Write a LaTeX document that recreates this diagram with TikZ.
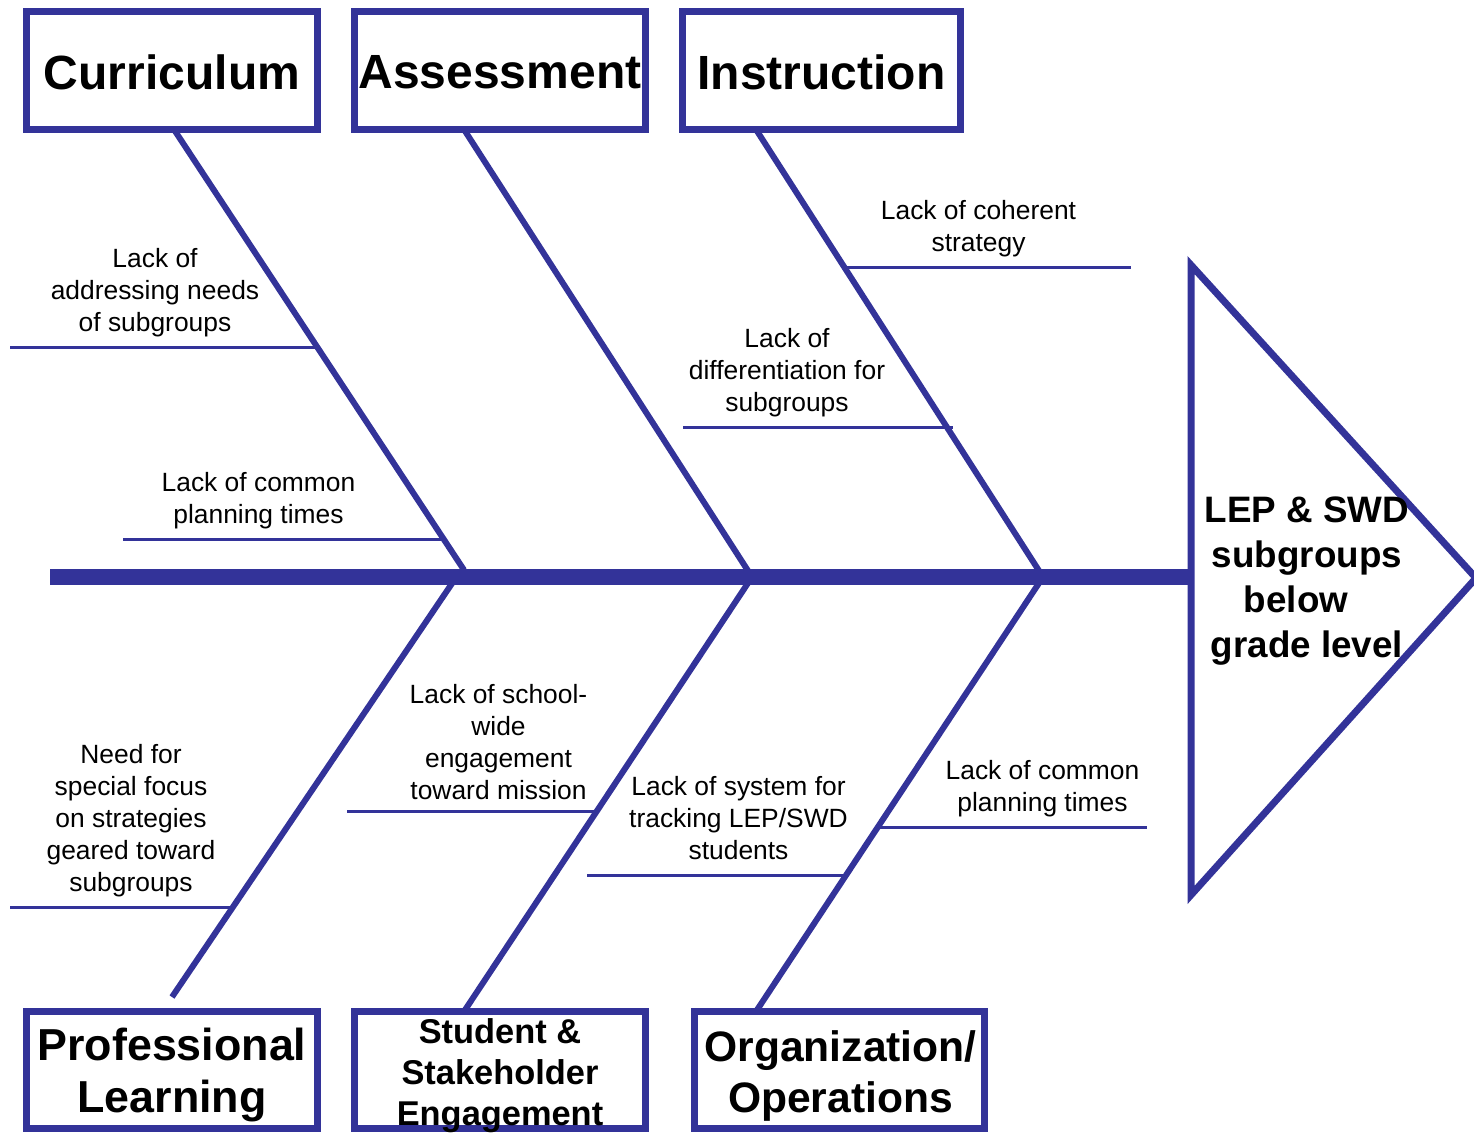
\documentclass[tikz,border=0pt]{standalone}
\usepackage{fontspec}
\setmainfont{Liberation Sans}
\definecolor{fb}{HTML}{333399}
\tikzset{
  catbox/.style={draw=fb, line width=3.5pt, fill=white, inner sep=0pt, minimum width=145.5pt, minimum height=59pt},
  cattext/.style={inner sep=0pt, align=center},
  bone/.style={draw=fb, line width=3pt},
  subline/.style={draw=fb, line width=1.5pt},
  cause/.style={inner sep=0pt, align=center, font=\fontsize{13.2}{16}\selectfont},
}
\begin{document}
\begin{tikzpicture}[x={(0.5pt,0)}, y={(0,-0.5pt)}]
\useasboundingbox (0,0) rectangle (1474,1132);
\clip (0,0) rectangle (1474,1132);
% spine and head
\coordinate (tail) at (50,577);
\coordinate (j1) at (458,577);
\coordinate (j2) at (752,577);
\coordinate (j3) at (1043,577);
\coordinate (headL) at (1191,577);
\draw[draw=fb, line width=8pt] (tail) -- (headL);
\draw[draw=fb, line width=3.5pt, line join=miter] (1191,265) -- (1476,578) -- (1191,895) -- cycle;
\node[inner sep=0pt, align=center, font=\bfseries\fontsize{18.4}{22.5}\selectfont] (effect) at (1307,581) {LEP \& SWD\\subgroups\\below\rule{11pt}{0pt}\\grade level};
% bone end points
\coordinate (c1t) at (175,131);
\coordinate (c1b) at (464,570);
\coordinate (c2t) at (465,131);
\coordinate (c3t) at (757,131);
\coordinate (p1b) at (172,997);
\coordinate (p1t) at (455,579);
\coordinate (p2b) at (465,1010);
\coordinate (p3b) at (757,1010);
% bones
\draw[bone] (c1t) -- (c1b);
\draw[bone] (c2t) -- (j2);
\draw[bone] (c3t) -- (j3);
\draw[bone] (p1t) -- (p1b);
\draw[bone] (j2) -- (p2b);
\draw[bone] (j3) -- (p3b);
% category boxes
\node[catbox] (cur) at (172,70.5) {};
\node[catbox] (ass) at (500,70.5) {};
\node[catbox, minimum width=139pt] (ins) at (821.5,70.5) {};
\node[catbox, minimum height=58.5pt] (pro) at (172,1070) {};
\node[catbox, minimum height=58.5pt] (stu) at (500,1070) {};
\node[catbox, minimum width=145pt, minimum height=58.5pt] (org) at (839.5,1070) {};
\node[cattext, font=\bfseries\fontsize{24}{28}\selectfont] (curT) at (172,72) {Curriculum};
\node[cattext, font=\bfseries\fontsize{24}{28}\selectfont] (assT) at (500,72) {Assessment};
\node[cattext, font=\bfseries\fontsize{24}{28}\selectfont] (insT) at (821.5,72) {Instruction};
\node[cattext, font=\bfseries\fontsize{22.4}{26}\selectfont] (proT) at (172,1075) {Professional\\Learning};
\node[cattext, font=\bfseries\fontsize{17.2}{20.5}\selectfont] (stuT) at (500,1076) {Student \&\\Stakeholder\\Engagement};
\node[cattext, font=\bfseries\fontsize{21.3}{25.5}\selectfont] (orgT) at (840.5,1076) {Organization/\\Operations};
% sub-cause lines
\coordinate (s1a) at (10,347);  \coordinate (s1b) at (317,347);
\coordinate (s2a) at (123,539); \coordinate (s2b) at (445,539);
\coordinate (s3a) at (845,267); \coordinate (s3b) at (1131,267);
\coordinate (s4a) at (683,427); \coordinate (s4b) at (953,427);
\coordinate (s5a) at (347,811); \coordinate (s5b) at (597,811);
\coordinate (s6a) at (10,907);  \coordinate (s6b) at (232,907);
\coordinate (s7a) at (587,875); \coordinate (s7b) at (845,875);
\coordinate (s8a) at (880,827); \coordinate (s8b) at (1147,827);
\draw[subline] (s1a) -- (s1b);
\draw[subline] (s2a) -- (s2b);
\draw[subline] (s3a) -- (s3b);
\draw[subline] (s4a) -- (s4b);
\draw[subline] (s5a) -- (s5b);
\draw[subline] (s6a) -- (s6b);
\draw[subline] (s7a) -- (s7b);
\draw[subline] (s8a) -- (s8b);
% cause texts
\node[cause] (t1) at (155,293) {Lack of\\addressing needs\\of subgroups};
\node[cause] (t2) at (258.5,501) {Lack of common\\planning times};
\node[cause] (t3) at (978.5,229) {Lack of coherent\\strategy};
\node[cause] (t4) at (787,373) {Lack of\\differentiation for\\subgroups};
\node[cause] (t5) at (498.5,742) {Lack of school-\\wide\\engagement\\toward mission};
\node[cause] (t6) at (131,821) {Need for\\special focus\\on strategies\\geared toward\\subgroups};
\node[cause] (t7) at (738.5,818) {Lack of system for\\tracking LEP/SWD\\students};
\node[cause] (t8) at (1042.5,789) {Lack of common\\planning times};
\end{tikzpicture}
\end{document}
